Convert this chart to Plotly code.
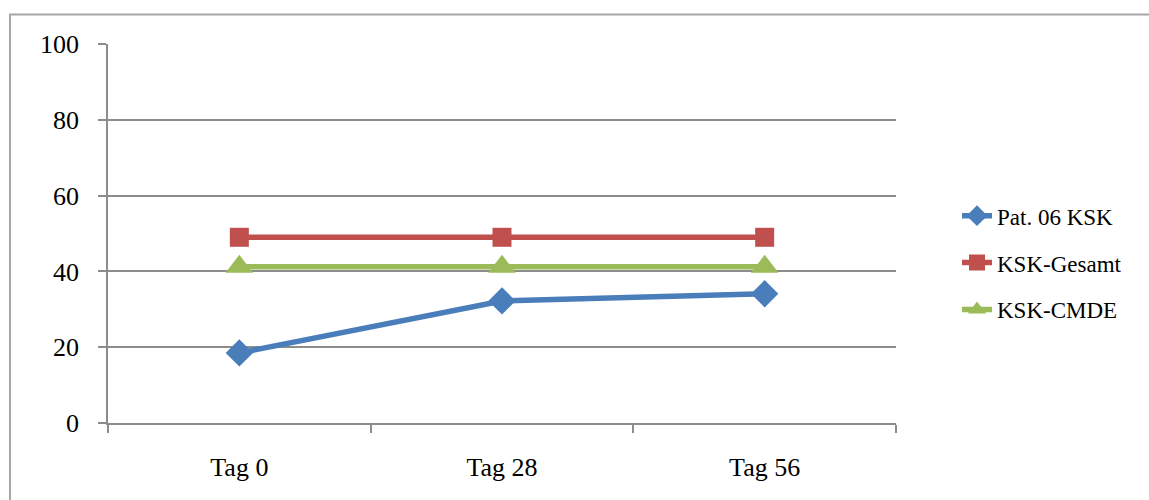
import plotly.graph_objects as go

# Kategorien und Messwerte
tage = ["Tag 0", "Tag 28", "Tag 56"]
pat06_ksk = [18.5, 32.2, 34.1]
ksk_gesamt = [49.0, 49.0, 49.0]
ksk_cmde = [41.2, 41.2, 41.2]

y_ticks = [0, 20, 40, 60, 80, 100]

FONT = "Liberation Serif"
GRID = "#8c8c8c"

fig = go.Figure()

fig.add_trace(go.Scatter(
    x=tage, y=pat06_ksk, name="Pat. 06 KSK", mode="lines+markers",
    line=dict(color="#4a7ebb", width=5.5),
    marker=dict(symbol="diamond", size=21, color="#4a7ebb"),
    legendgroup="a",
))
fig.add_trace(go.Scatter(
    x=tage, y=ksk_gesamt, name="KSK-Gesamt", mode="lines+markers",
    line=dict(color="#c0504d", width=5.5),
    marker=dict(symbol="square", size=19, color="#c0504d"),
    legendgroup="b",
))
fig.add_trace(go.Scatter(
    x=tage, y=ksk_cmde, name="KSK-CMDE", mode="lines+markers",
    line=dict(color="#9bbb59", width=5.5),
    marker=dict(symbol="triangle-up", size=24, color="#9bbb59"),
    legendgroup="c",
))

W, H = 1149, 500
L, R = 108, 896
T, B = 44, 423.5

def px_x(v):
    return (v - L) / (R - L)

def px_y(v):
    return (B - v) / (B - T)

fig.update_layout(
    width=W, height=H,
    margin=dict(l=L, r=W - R, t=T, b=H - B),
    paper_bgcolor="white", plot_bgcolor="white",
    font=dict(family=FONT, color="black", size=26),
    showlegend=True,
    legend=dict(
        x=px_x(957), y=px_y(263), xanchor="left", yanchor="middle",
        font=dict(family=FONT, size=23, color="black"),
        tracegroupgap=14, bgcolor="rgba(0,0,0,0)",
    ),
    xaxis=dict(
        type="category", range=[-0.5, 2.5],
        showgrid=False, showline=True, linecolor=GRID, linewidth=1.5,
        ticks="outside", tickson="boundaries", ticklen=8,
        tickcolor=GRID, tickwidth=1.5,
        ticklabelstandoff=20, tickfont=dict(size=26),
        zeroline=False,
    ),
    yaxis=dict(
        range=[0, 100], tickvals=y_ticks,
        showgrid=True, gridcolor=GRID, gridwidth=1.5,
        showline=True, linecolor=GRID, linewidth=1.5,
        ticks="outside", ticklen=8, tickcolor=GRID, tickwidth=1.5,
        ticklabelstandoff=14, tickfont=dict(size=26),
        zeroline=False,
    ),
    shapes=[dict(
        type="rect", xref="paper", yref="paper",
        x0=px_x(10), x1=px_x(1160), y0=px_y(520), y1=px_y(14.5),
        line=dict(color="#a6a6a6", width=2), layer="below",
    )],
)

fig.write_html("out.html")
